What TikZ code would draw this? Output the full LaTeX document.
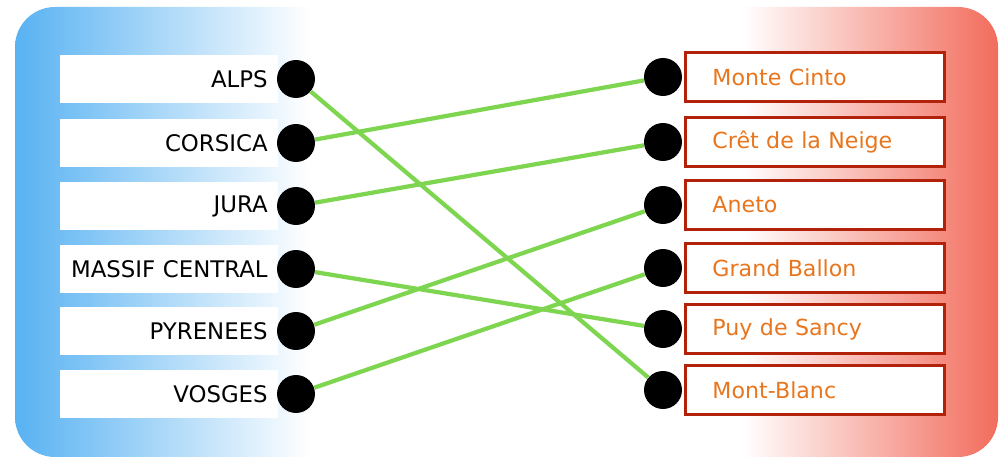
\documentclass[tikz,border=0pt]{standalone}
\usepackage{fontspec}
\setmainfont{DejaVu Sans}
\usetikzlibrary{positioning}
\definecolor{skyblue}{RGB}{88,178,242}
\definecolor{salmonred}{RGB}{242,108,92}
\definecolor{boxred}{RGB}{178,34,10}
\definecolor{peakorange}{RGB}{232,118,30}
\definecolor{linkgreen}{RGB}{126,214,80}
\pgfdeclarehorizontalshading{flagfade}{100bp}{color(0bp)=(skyblue); color(25bp)=(skyblue); color(40bp)=(white); color(62bp)=(white); color(75bp)=(salmonred); color(100bp)=(salmonred)}

\begin{document}
\begin{tikzpicture}[x=0.02cm,y=-0.02cm,
   rangebox/.style={fill=white, minimum height=0.96cm, inner xsep=0.2cm,
      text width=3.96cm, align=right, anchor=east, font=\fontsize{13}{15}\selectfont},
   peakbox/.style={draw=boxred, line width=1.7pt, fill=white, minimum height=0.98cm,
      inner xsep=0.54cm, text width=4.1cm, align=left, anchor=west,
      text=peakorange, font=\fontsize{12.6}{15}\selectfont},
   dot/.style={circle, fill=black, minimum size=0.76cm, inner sep=0pt},
   link/.style={linkgreen, line width=2.4pt}]
   \useasboundingbox (0,0) rectangle (1005,462);

   % background
   \shade[shading=flagfade, rounded corners=0.8cm] (15,7) rectangle (998,457);

   % ranges on the left
   \foreach \name/\y/\label in {1/79/ALPS, 2/143/CORSICA, 3/206/JURA,
         4/269/MASSIF CENTRAL, 5/331/PYRENEES, 6/394/VOSGES} {
      \node[rangebox] (range\name) at (278,\y) {\mbox{\label}};
      \node[dot] (ld\name) at (296,\y) {};
   }

   % summits on the right
   \foreach \name/\y/\label in {1/77/Monte Cinto, 2/142/Crêt de la Neige, 3/205/Aneto,
         4/268/Grand Ballon, 5/329/Puy de Sancy, 6/390/Mont-Blanc} {
      \node[peakbox] (peak\name) at (684,\y) {\label};
      \node[dot] (rd\name) at (663,\y) {};
   }

   % links
   \foreach \a/\b in {1/6, 2/1, 3/2, 4/5, 5/3, 6/4}
      \draw[link] (ld\a) -- (rd\b);

\end{tikzpicture}
\end{document}
